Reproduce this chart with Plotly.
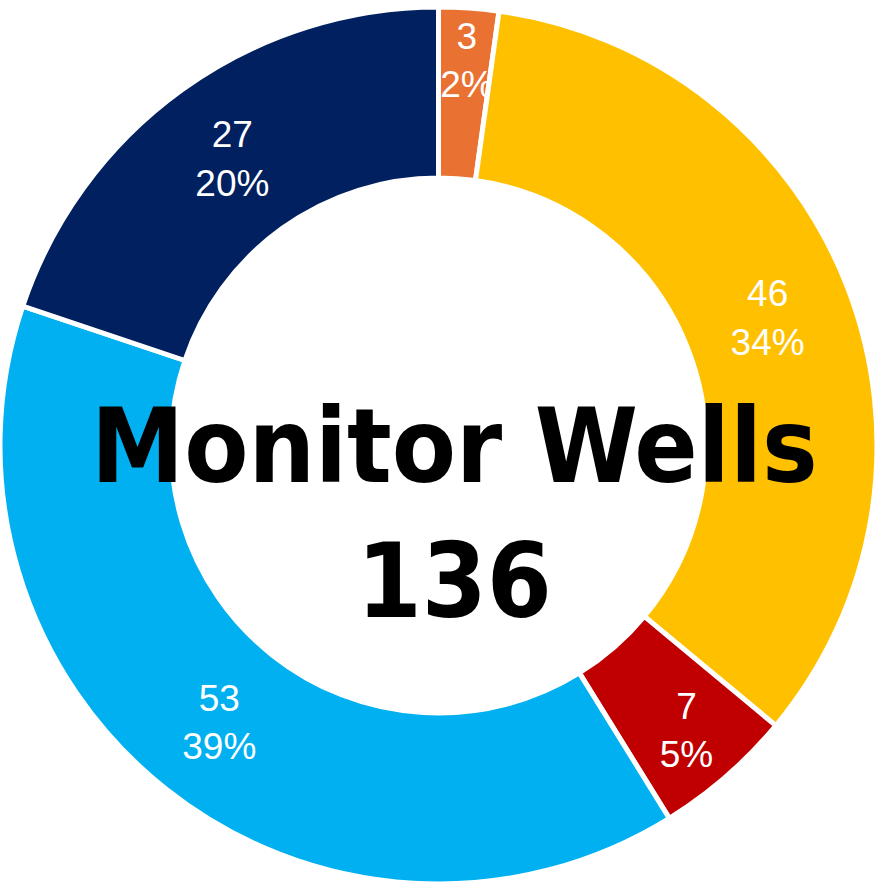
import plotly.graph_objects as go

categories = ["Orange", "Gold", "Red", "Light Blue", "Navy"]
values = [3, 46, 7, 53, 27]
colors = ["#E97132", "#FFC000", "#C00000", "#00B0F0", "#002060"]
center_title = "Monitor Wells"

total = sum(values)

base_tpl = "%{value}<br>%{percent:.0%}"
# thin slices get a blank leading line so the label sits nearer mid-ring
templates = [("&nbsp;<br>" + base_tpl) if v / total < 0.03 else base_tpl for v in values]

fig = go.Figure(go.Pie(
    labels=categories,
    values=values,
    sort=False,
    direction="clockwise",
    rotation=0,
    hole=0.61,
    marker=dict(colors=colors, line=dict(color="white", width=5)),
    texttemplate=templates,
    textposition="inside",
    insidetextorientation="horizontal",
    textfont=dict(color="white", size=37, family="Liberation Sans"),
    showlegend=False,
))

fig.update_layout(
    width=877, height=891,
    margin=dict(l=0, r=0, t=0, b=0),
    paper_bgcolor="white",
    uniformtext=dict(minsize=37, mode="show"),
    annotations=[dict(
        text=f"<b>{center_title}<br>{total}</b>",
        x=0.5, y=0.5, xref="paper", yref="paper",
        xanchor="center", yanchor="middle",
        yshift=-68, xshift=16,
        showarrow=False,
        font=dict(family="DejaVu Sans Condensed", size=104, color="black"),
    )],
)

fig.write_html(
    "out.html",
    config={"displayModeBar": False},
    post_script="document.body.style.margin='0';document.body.style.overflow='hidden';",
)
